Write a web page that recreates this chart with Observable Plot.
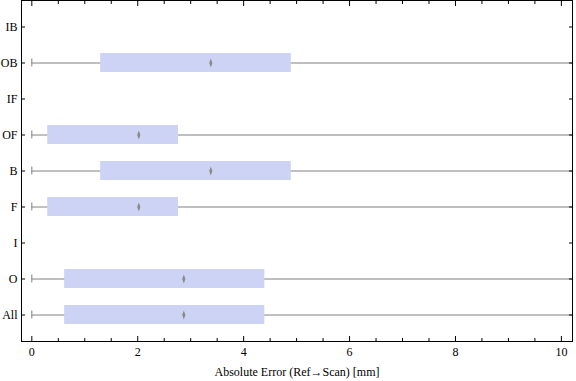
<!DOCTYPE html>
<html><head><meta charset="utf-8">
<script src="https://cdn.jsdelivr.net/npm/d3@7"></script>
<script src="https://cdn.jsdelivr.net/npm/@observablehq/plot@0.6"></script>
<style>body{margin:0;background:#fff}</style>
</head><body><div id="chart"></div>
<script>
const categories = ["IB","OB","IF","OF","B","F","I","O","All"];
const minVals    = [null, 0,    null, 0,    0,    0,    null, 0,    0];
const q1Vals     = [null, 1.30, null, 0.30, 1.30, 0.30, null, 0.62, 0.62];
const medVals    = [null, 3.38, null, 2.02, 3.38, 2.02, null, 2.87, 2.87];
const q3Vals     = [null, 4.90, null, 2.77, 4.90, 2.77, null, 4.40, 4.40];
const maxVals    = [null, 12,   null, 12,   12,   12,   null, 12,   12];
const majorTicks = [0, 2, 4, 6, 8, 10];
const minorTicks = [0.5, 1, 1.5, 2.5, 3, 3.5, 4.5, 5, 5.5, 6.5, 7, 7.5, 8.5, 9, 9.5];
const xLabel = "Absolute Error (Ref\u2192Scan) [mm]";

const rows = categories.map((c, i) => ({cat: c, min: minVals[i], q1: q1Vals[i], med: medVals[i], q3: q3Vals[i], max: maxVals[i]}))
  .filter(d => d.med != null);

const thinDiamond = {draw(ctx, size) {
  ctx.moveTo(0, -4.5); ctx.lineTo(1.6, 0); ctx.lineTo(0, 4.5); ctx.lineTo(-1.6, 0); ctx.closePath();
}};

const chart = Plot.plot({
  width: 576, height: 381,
  marginLeft: 21, marginRight: 4, marginTop: 0, marginBottom: 40,
  style: {fontFamily: "'Liberation Serif', serif", fontSize: "12px", color: "#000", background: "#fff"},
  x: {domain: [-0.195, 10.21], label: null},
  y: {type: "band", domain: categories, paddingInner: 0.48, paddingOuter: 0.42, label: null},
  marks: [
    Plot.ruleY(rows, {y: "cat", x1: "min", x2: "max", stroke: "#808080", strokeWidth: 1, clip: true}),
    Plot.barX(rows, {y: "cat", x1: "q1", x2: "q3", fill: "#cdd3f4"}),
    Plot.tickX(rows, {y: "cat", x: "min", stroke: "#808080", insetTop: 5.5, insetBottom: 5.5}),
    Plot.dot(rows, {y: "cat", x: "med", symbol: thinDiamond, fill: "#8a8a8a", stroke: null, r: 3}),
    Plot.frame({stroke: "#000", strokeWidth: 1}),
    Plot.axisX({ticks: majorTicks, tickSize: -5, tickPadding: 11, tickFormat: d => String(d), label: null, stroke: "#000"}),
    Plot.axisX({ticks: minorTicks, tickSize: -3, tickFormat: () => "", label: null}),
    Plot.axisX({anchor: "top", ticks: majorTicks, tickSize: -5, tickFormat: () => "", label: null}),
    Plot.axisX({anchor: "top", ticks: minorTicks, tickSize: -3, tickFormat: () => "", label: null}),
    Plot.axisY({anchor: "left", tickSize: -4, tickPadding: 8, label: null}),
    Plot.axisY({anchor: "right", tickSize: -4, tickFormat: () => "", label: null}),
    Plot.text([xLabel], {text: d => d, frameAnchor: "bottom", dy: 34, lineAnchor: "bottom", fontSize: 12, fill: "#000"})
  ]
});
document.getElementById("chart").appendChild(chart);
</script>
</body></html>
